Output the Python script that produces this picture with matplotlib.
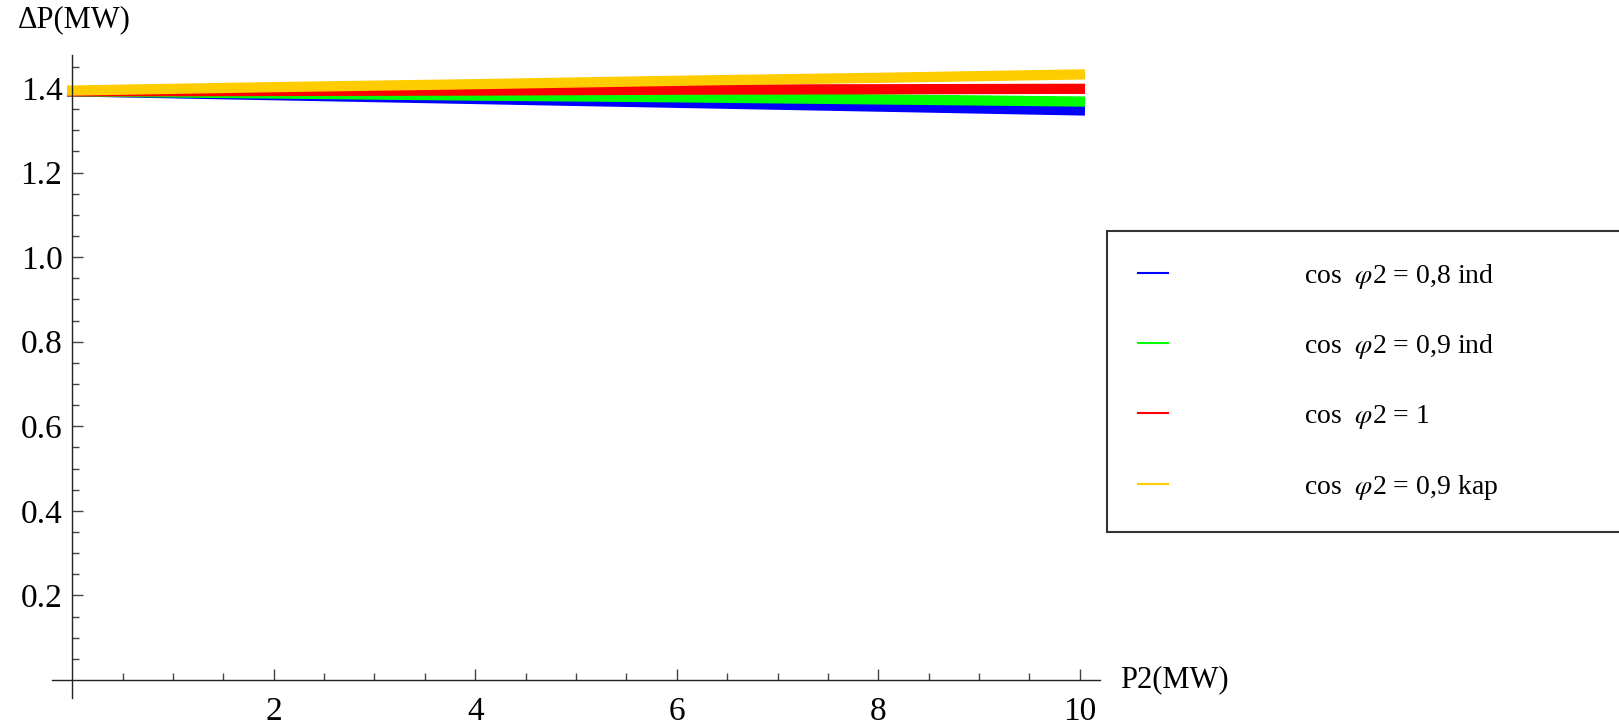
import matplotlib
matplotlib.use('Agg')
import matplotlib.pyplot as plt
import numpy as np

# load P2 in MW
p2 = [0, 2, 4, 6, 8, 10]
# power losses in MW for each power factor
dp_08_ind = [1.392, 1.383, 1.374, 1.365, 1.356, 1.347]
dp_09_ind = [1.392, 1.387, 1.382, 1.378, 1.373, 1.368]
dp_1 = [1.392, 1.393, 1.394, 1.396, 1.397, 1.398]
dp_09_kap = [1.394, 1.402, 1.409, 1.417, 1.424, 1.432]

labels = [r'cos  $\varphi$2 = 0,8 ind', r'cos  $\varphi$2 = 0,9 ind',
          r'cos  $\varphi$2 = 1', r'cos  $\varphi$2 = 0,9 kap']
colors = ['#0000ff', '#00ff00', '#ff0000', '#ffcc00']
series = [dp_08_ind, dp_09_ind, dp_1, dp_09_kap]

plt.rcParams['font.family'] = ['Liberation Serif', 'DejaVu Serif']
plt.rcParams['mathtext.fontset'] = 'stix'

W, H = 1619, 726
fig = plt.figure(figsize=(W / 100, H / 100), dpi=100, facecolor='white')
ax = fig.add_axes([52 / W, 1 - 698 / H, (1100 - 52) / W, (698 - 55) / H])

for ys, c in zip(series, colors):
    ax.plot(p2, ys, color=c, linewidth=7.4, solid_capstyle='projecting')

ax.set_xlim(-0.2, 10.2)
ax.set_ylim(-0.0426, 1.478)

# axes crossing at origin, Mathematica style
ax.spines['left'].set_position(('data', 0))
ax.spines['bottom'].set_position(('data', 0))
ax.spines['right'].set_visible(False)
ax.spines['top'].set_visible(False)
for s in ['left', 'bottom']:
    ax.spines[s].set_linewidth(1.0)
    ax.spines[s].set_color('#222222')

ax.set_xticks([2, 4, 6, 8, 10])
ax.set_xticks([v for v in np.arange(0.5, 10.01, 0.5) if v % 2 != 0], minor=True)
ax.set_yticks([0.2, 0.4, 0.6, 0.8, 1.0, 1.2, 1.4])
ax.set_yticks([v for v in np.arange(0.05, 1.47, 0.05)
               if abs(v / 0.2 - round(v / 0.2)) > 1e-6], minor=True)
ax.set_xticklabels(['2', '4', '6', '8', '10'])
ax.set_yticklabels(['0.2', '0.4', '0.6', '0.8', '1.0', '1.2', '1.4'])
ax.tick_params(which='both', direction='in', colors='#444444', labelcolor='black',
               labelsize=24)
ax.tick_params(which='major', length=8, width=1)
ax.tick_params(which='minor', length=5, width=1)
ax.tick_params(axis='x', pad=12)
ax.tick_params(axis='y', pad=7)

fig.text(18 / W, 1 - 20 / H, u'\u0394P(MW)', fontsize=22, va='center', ha='left')
fig.text(1120 / W, 1 - 680 / H, 'P2(MW)', fontsize=22, va='center', ha='left')

handles = [plt.Line2D([], [], color=c, linewidth=1.5) for c in colors]
leg = fig.legend(handles, labels, loc='upper left',
                 bbox_to_anchor=(1107 / W, 1 - 531 / H, 700 / W, (531 - 231) / H),
                 mode='expand', fontsize=20, frameon=True, fancybox=False,
                 labelspacing=1.5, handlelength=1.1, handletextpad=4.9,
                 borderpad=1.1, borderaxespad=0)
leg.get_frame().set_edgecolor('black')
leg.get_frame().set_linewidth(1.5)

fig.savefig('out.png', dpi=100, facecolor='white')
